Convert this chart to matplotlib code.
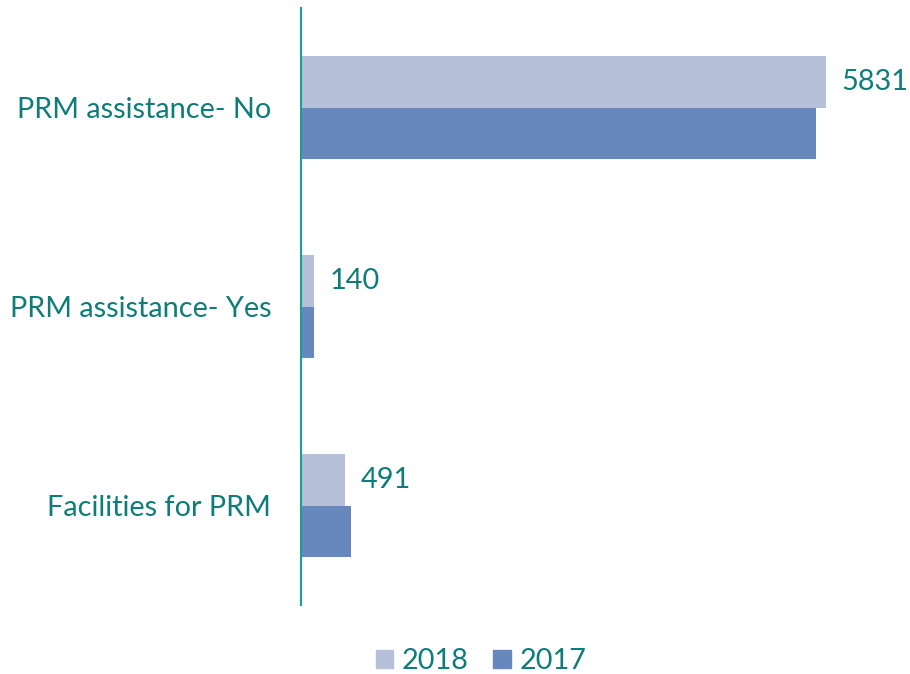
import matplotlib
matplotlib.use("Agg")
import matplotlib.pyplot as plt
from matplotlib.patches import Patch
import numpy as np

categories = ["PRM assistance- No", "PRM assistance- Yes", "Facilities for PRM"]
values_2018 = [5831, 140, 491]
values_2017 = [5720, 140, 555]
series_names = ["2018", "2017"]

c18 = "#B6C1D9"
c17 = "#6788BC"
teal = "#0E7C78"
axis_teal = "#1A9E9A"

plt.rcParams['font.family'] = ['Lato', 'DejaVu Sans']

fig = plt.figure(figsize=(9.1, 6.74), dpi=100)
ax = fig.add_axes([301/910, (674-605)/674, 600/910, 597/674])

y = np.arange(len(categories))[::-1].astype(float)
h = 0.26
ax.barh(y + h/2, values_2018, height=h, color=c18, label=series_names[0])
ax.barh(y - h/2, values_2017, height=h, color=c17, label=series_names[1])

for yi, v in zip(y, values_2018):
    ax.text(v + 175, yi + h/2, str(v), va="center", ha="left",
            fontsize=20.8, color=teal)

ax.set_xlim(0, 600/0.09003)
ax.set_ylim(-0.5, len(categories) - 0.5)
ax.set_yticks(y)
ax.set_yticklabels(categories, fontsize=20.8, color=teal)
ax.tick_params(axis="y", length=0, pad=21.5)
ax.set_xticks([])
for s in ["top", "right", "bottom"]:
    ax.spines[s].set_visible(False)
ax.spines["left"].set_color(axis_teal)
ax.spines["left"].set_linewidth(1.5)

handles = [Patch(color=c18), Patch(color=c17)]
fig.legend(handles, series_names, loc="center", bbox_to_anchor=(481/910, 1 - 661/674),
           ncol=2, frameon=False, fontsize=20.8, labelcolor=teal,
           handlelength=0.6, handleheight=0.6, handletextpad=0.3, columnspacing=0.85)

fig.savefig("out.png", dpi=100)
